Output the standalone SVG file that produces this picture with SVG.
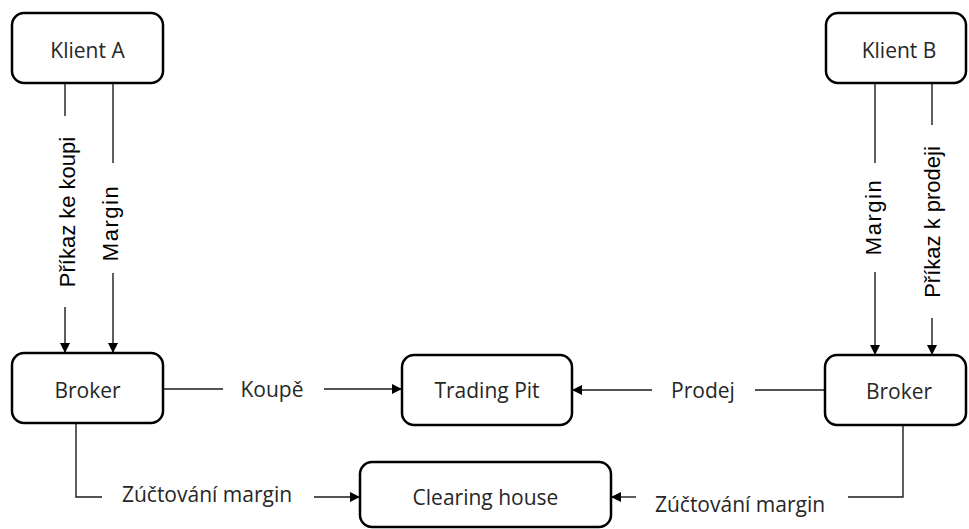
<svg xmlns="http://www.w3.org/2000/svg" width="969" height="529" viewBox="0 0 969 529">
  <style>
    .box { fill: #ffffff; stroke: #000000; stroke-width: 2.5; }
    .lbl { font-family: "Open Sans", "Noto Sans", sans-serif; font-size: 21px; fill: #262626; text-anchor: middle; }
    .vlbl { font-family: "Liberation Sans", Arial, sans-serif; font-size: 22px; fill: #000000; text-anchor: middle; }
    .wide { letter-spacing: 1.5px; }
    .conn { fill: none; stroke: #1a1a1a; stroke-width: 1.4; }
    .arrow { marker-end: url(#head); }
  </style>
  <defs>
    <marker id="head" viewBox="0 0 10 10" refX="10" refY="5" markerWidth="10" markerHeight="10" markerUnits="userSpaceOnUse" orient="auto">
      <path d="M0,0 L10,5 L0,10 Z" fill="#000000"/>
    </marker>
  </defs>

  <rect width="969" height="529" fill="#ffffff"/>

  <!-- connectors -->
  <g id="connectors">
    <!-- Klient A -> Broker (order) -->
    <line class="conn" x1="65" y1="83" x2="65" y2="116"/>
    <line class="conn arrow" x1="65" y1="307" x2="65" y2="353"/>
    <text class="vlbl" transform="translate(75,212) rotate(-90)">Příkaz ke koupi</text>
    <!-- Klient A -> Broker (margin) -->
    <line class="conn" x1="113" y1="83" x2="113" y2="163"/>
    <line class="conn arrow" x1="113" y1="273" x2="113" y2="353"/>
    <text class="vlbl wide" transform="translate(118,223) rotate(-90)">Margin</text>

    <!-- Klient B -> Broker (margin) -->
    <line class="conn" x1="875" y1="83" x2="875" y2="163"/>
    <line class="conn arrow" x1="875" y1="272" x2="875" y2="355"/>
    <text class="vlbl wide" transform="translate(881,217) rotate(-90)">Margin</text>
    <!-- Klient B -> Broker (order) -->
    <line class="conn" x1="932" y1="83" x2="932" y2="125"/>
    <line class="conn arrow" x1="932" y1="318" x2="932" y2="355"/>
    <text class="vlbl" transform="translate(940,222) rotate(-90)">Příkaz k prodeji</text>

    <!-- Broker A -> Trading Pit -->
    <line class="conn" x1="163" y1="389" x2="223" y2="389"/>
    <line class="conn arrow" x1="324" y1="389" x2="402" y2="389"/>
    <text class="lbl" x="272" y="397">Koupě</text>

    <!-- Broker B -> Trading Pit -->
    <line class="conn" x1="825" y1="390" x2="755" y2="390"/>
    <line class="conn arrow" x1="652" y1="390" x2="572" y2="390"/>
    <text class="lbl" x="703" y="398">Prodej</text>

    <!-- Broker A -> Clearing house -->
    <polyline class="conn" points="76,423 76,497 102,497"/>
    <line class="conn arrow" x1="314" y1="497" x2="360" y2="497"/>
    <text class="lbl" x="207" y="502">Zúčtování margin</text>

    <!-- Broker B -> Clearing house -->
    <polyline class="conn" points="903,425 903,497 848,497"/>
    <line class="conn arrow" x1="636" y1="497" x2="611" y2="497"/>
    <text class="lbl" x="740" y="512">Zúčtování margin</text>
  </g>

  <!-- nodes -->
  <g id="klient-a">
    <rect class="box" x="12" y="13" width="151" height="70" rx="12"/>
    <text class="lbl" x="87.5" y="58">Klient A</text>
  </g>
  <g id="klient-b">
    <rect class="box" x="826" y="13" width="140" height="70" rx="12"/>
    <text class="lbl" x="899" y="58">Klient B</text>
  </g>
  <g id="broker-a">
    <rect class="box" x="12" y="353" width="151" height="70" rx="12"/>
    <text class="lbl" x="87.5" y="398">Broker</text>
  </g>
  <g id="trading-pit">
    <rect class="box" x="402" y="355" width="170" height="70" rx="12"/>
    <text class="lbl" x="487" y="398">Trading Pit</text>
  </g>
  <g id="broker-b">
    <rect class="box" x="825" y="355" width="141" height="70" rx="12"/>
    <text class="lbl" x="899" y="399">Broker</text>
  </g>
  <g id="clearing-house">
    <rect class="box" x="360" y="462" width="251" height="65" rx="12"/>
    <text class="lbl" x="485.5" y="505">Clearing house</text>
  </g>
</svg>
